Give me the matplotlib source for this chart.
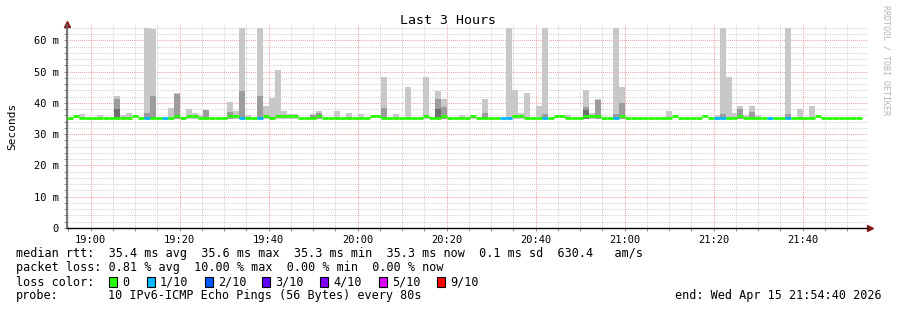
import datetime
import matplotlib
matplotlib.use('Agg')
import matplotlib.pyplot as plt
import matplotlib.dates as mdates
import matplotlib.ticker as mticker
from matplotlib.collections import LineCollection
from matplotlib.patches import Rectangle

plt.rcParams['font.family'] = ['DejaVu Sans Mono']

# time range: last 3 hours, one rrd step = 80 s
t_start = datetime.datetime(2026, 4, 15, 18, 54, 40)
t_end = datetime.datetime(2026, 4, 15, 21, 54, 40)
STEP = datetime.timedelta(seconds=80)
n_steps = 134

# median rtt (ms)
median_base = 35.3
median_high = 35.8
median_up_steps = [1, 11, 18, 20, 21, 27, 28, 33, 35, 36, 37, 38, 42, 51, 52,
                   60, 63, 68, 75, 76, 82, 83, 87, 88, 89, 93, 102, 107, 113, 126]

# lost pings per step (out of 10)
loss_steps = [13, 16, 29, 32, 73, 74, 80, 92, 109, 110, 118, 121]
loss_counts = [1, 1, 1, 1, 1, 1, 1, 1, 1, 1, 1, 1]

# smoke: top of outer band, middle band, inner band (0 = not visible)
smoke_steps = [2, 5, 8, 9, 10, 13, 14, 17, 18, 20, 21, 22, 23, 27, 28, 29, 30,
               32, 33, 34, 35, 36, 37, 38, 41, 42, 45, 47, 49, 53, 55, 57, 60,
               62, 63, 66, 68, 70, 74, 75, 76, 77, 79, 80, 84, 87, 88, 89, 92,
               93, 101, 109, 110, 111, 112, 113, 114, 115, 116, 121, 123, 125]
smoke_max = [36.4, 36.0, 42.2, 36.2, 36.8, 64.0, 63.6, 38.4, 43.3, 37.9, 36.8,
             36.2, 37.7, 40.3, 37.5, 64.0, 36.2, 64.0, 39.0, 41.7, 50.5, 37.4,
             36.3, 36.6, 36.3, 37.4, 37.4, 36.8, 36.3, 48.3, 36.4, 45.1, 48.3,
             43.9, 41.2, 36.2, 36.2, 41.2, 64.0, 44.1, 36.8, 43.1, 39.0, 64.0,
             36.0, 44.1, 36.8, 41.2, 64.0, 45.1, 37.4, 36.0, 64.0, 48.3, 36.8,
             39.0, 36.2, 39.0, 36.0, 64.0, 38.0, 39.0]
smoke_mid = [0, 0, 41.3, 0, 0, 36.7, 42.2, 0, 43.0, 0, 0,
             0, 37.7, 37.2, 0, 43.9, 0, 42.2, 0, 0, 0, 0,
             0, 0, 36.1, 36.8, 0, 0, 0, 38.4, 0, 0, 0,
             41.2, 38.6, 0, 0, 36.8, 0, 0, 0, 0, 0, 36.4,
             0, 38.6, 0, 40.9, 36.4, 40.0, 0, 0, 36.4, 0, 0,
             37.9, 0, 37.1, 0, 36.4, 0, 0]
smoke_dark = [0, 0, 38.0, 0, 0, 0, 0, 0, 0, 0, 0,
              0, 0, 0, 0, 0, 0, 0, 0, 0, 0, 0,
              0, 0, 0, 0, 0, 0, 0, 0, 0, 0, 0,
              38.0, 0, 0, 0, 0, 0, 0, 0, 0, 0, 0,
              0, 37.8, 0, 0, 0, 0, 0, 0, 0, 0, 0,
              0, 0, 0, 0, 0, 0, 0]

loss_colors = {0: '#26ff00', 1: '#00b8ff', 2: '#0059ff', 3: '#5e00ff',
               4: '#7e00ff', 5: '#dd00ff', 9: '#ff0000'}
legend_labels = ['0', '1/10', '2/10', '3/10', '4/10', '5/10', '9/10']
legend_keys = [0, 1, 2, 3, 4, 5, 9]

W, H = 897, 310
fig = plt.figure(figsize=(W / 100, H / 100), dpi=100)
ax = fig.add_axes([67 / W, 82 / H, 801 / W, 203.3 / H])

step_days = STEP.total_seconds() / 86400.0
x0 = mdates.date2num(t_start)


def sx(i):
    return x0 + i * step_days


# smoke bands
smoke_bottom = 35.0
band_cols = ['#c8c8c8', '#9c9c9c', '#6e6e6e']
for vals, col in zip([smoke_max, smoke_mid, smoke_dark], band_cols):
    xs = [sx(s) for s, v in zip(smoke_steps, vals) if v > 0]
    hs = [v - smoke_bottom for v in vals if v > 0]
    ax.bar(xs, hs, bottom=smoke_bottom, width=step_days, align='edge',
           color=col, linewidth=0, zorder=1)

# median line coloured by loss
median = [median_base] * n_steps
for s in median_up_steps:
    median[s] = median_high
loss = [0] * n_steps
for s, c in zip(loss_steps, loss_counts):
    loss[s] = c
segs = [[(sx(i), median[i]), (sx(i + 1), median[i])] for i in range(n_steps)]
cols = [loss_colors[loss[i]] for i in range(n_steps)]
ax.add_collection(LineCollection(segs, colors=cols, linewidths=2.0,
                                 capstyle='butt', zorder=3))

ax.set_xlim(mdates.date2num(t_start), mdates.date2num(t_end))
ax.set_ylim(0, 65)

ax.xaxis.set_major_locator(mdates.MinuteLocator(byminute=[0, 20, 40]))
ax.xaxis.set_minor_locator(mdates.MinuteLocator(byminute=range(0, 60, 5)))
ax.xaxis.set_major_formatter(mdates.DateFormatter('%H:%M'))
ax.yaxis.set_major_locator(mticker.MultipleLocator(10))
ax.yaxis.set_minor_locator(mticker.MultipleLocator(2))
ax.yaxis.set_major_formatter(
    mticker.FuncFormatter(lambda v, p: '0' if v == 0 else '%d m' % v))

ax.set_axisbelow(True)
ax.grid(which='minor', color='#d2d2d2', linestyle=(0, (1, 1)), linewidth=0.75)
ax.grid(which='major', color='#f4a0a0', linestyle=(0, (1, 1)), linewidth=0.75)
ax.tick_params(which='both', direction='out', length=2, width=0.7,
               color='#909090', labelsize=7.5, pad=4)
ax.tick_params(axis='x', which='both', pad=3)

for side in ['top', 'right']:
    ax.spines[side].set_visible(False)
ax.spines['left'].set_color('#606060')
ax.spines['left'].set_linewidth(1.2)
ax.spines['bottom'].set_color('black')
ax.spines['bottom'].set_linewidth(1.0)
ax.plot([0], [1.005], marker='^', color='#8b1c1c', markersize=4,
        transform=ax.transAxes, clip_on=False)
ax.plot([1.003], [0], marker='>', color='#8b1c1c', markersize=4,
        transform=ax.transAxes, clip_on=False)

ax.set_ylabel('Seconds', fontsize=8)
ax.yaxis.set_label_coords(-50 / 801, 0.5)


def ftext(x, y, s, **kw):
    return fig.text(x / W, 1 - y / H, s, **kw)


ftext(448, 20, 'Last 3 Hours', ha='center', va='center', fontsize=9.5)
ftext(886, 5, 'RRDTOOL / TOBI OETIKER', rotation=270, ha='center', va='top',
      fontsize=6, color='#b4b4b4')

fs = 8.5
ftext(16, 254, 'median rtt:  35.4 ms avg  35.6 ms max  35.3 ms min  '
      '35.3 ms now  0.1 ms sd  630.4   am/s', va='center', fontsize=fs)
ftext(16, 268, 'packet loss: 0.81 % avg  10.00 % max  0.00 % min  0.00 % now',
      va='center', fontsize=fs)
ftext(16, 282, 'loss color:', va='center', fontsize=fs)
box_x = [109, 147, 205, 262, 320, 379, 437]
for bx, key, lab in zip(box_x, legend_keys, legend_labels):
    fig.patches.append(Rectangle((bx / W, 1 - 287 / H), 8 / W, 10 / H,
                                 transform=fig.transFigure,
                                 facecolor=loss_colors[key],
                                 edgecolor='black', linewidth=0.8))
    ftext(bx + 13, 282, lab, va='center', fontsize=fs)
ftext(16, 296, 'probe:', va='center', fontsize=fs)
ftext(108, 296, '10 IPv6-ICMP Echo Pings (56 Bytes) every 80s',
      va='center', fontsize=fs)
ftext(882, 296, 'end: Wed Apr 15 21:54:40 2026', ha='right', va='center',
      fontsize=fs)

fig.savefig('out.png', dpi=100)
